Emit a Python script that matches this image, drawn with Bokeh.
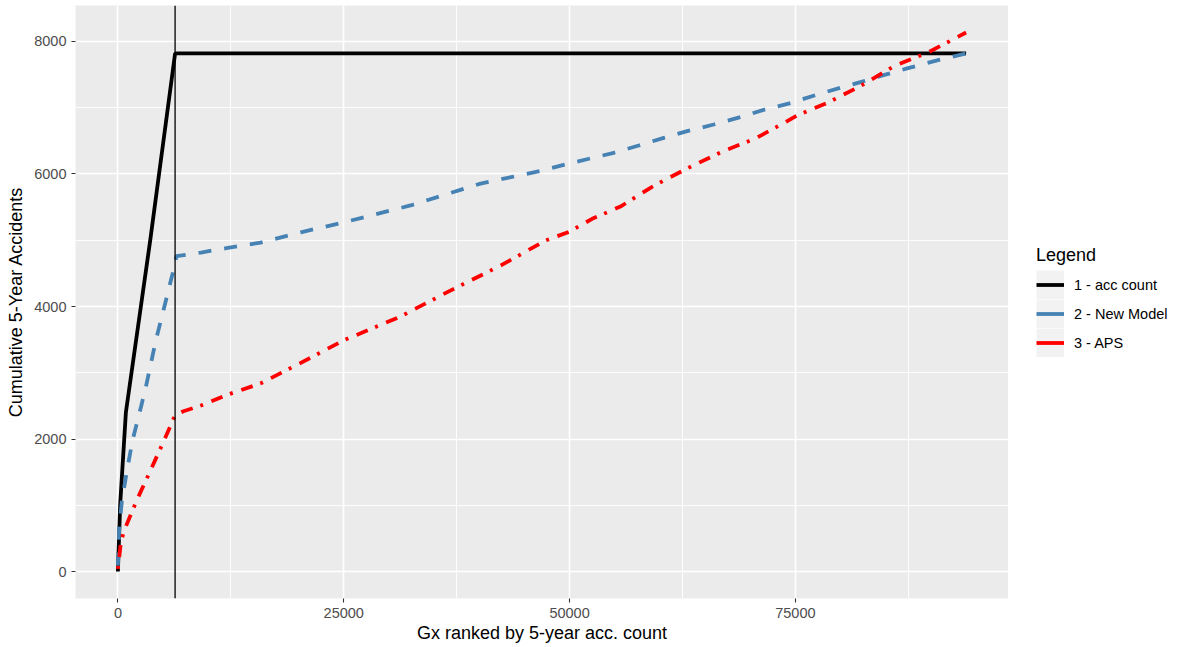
from bokeh.plotting import figure
from bokeh.layouts import row
from bokeh.models import Range1d, FixedTicker, Span, Legend, LegendItem
from bokeh.embed import file_html
from bokeh.resources import INLINE

# Gx ranked by 5-year accident count (x) vs cumulative 5-year accidents (y)
# values
acc_x = [0, 255, 885, 3575, 6330, 93900]
acc_y = [0, 1022, 2405, 4996, 7820, 7820]

new_x = [0, 145, 440, 1070, 1620, 2545, 3100, 4200, 5125, 6050, 6480, 9200,
         12000, 15800, 20250, 25000, 32400, 40150, 47000, 50000, 54900, 57660,
         60430, 63020, 65960, 68920, 71500, 74450, 77200, 80040, 82200, 84870,
         87470, 90800, 93900]
new_y = [90, 650, 1070, 1575, 1980, 2480, 2790, 3487, 3990, 4494, 4760, 4815,
         4880, 4965, 5120, 5270, 5525, 5855, 6053, 6160, 6320, 6430,
         6546, 6646, 6747, 6858, 6969, 7069, 7190, 7304, 7386, 7496,
         7597, 7719, 7820]

aps_x = [0, 330, 700, 2100, 3725, 5240, 6330, 7260, 9200, 11950, 15800, 20250,
         25000, 31300, 36800, 42400, 47350, 50000, 52500, 55640, 57300, 58960,
         60430, 63680, 67000, 70500, 73700, 75190, 78560, 82270, 85990, 89700,
         93900]
aps_y = [40, 440, 620, 1080, 1560, 2018, 2360, 2420, 2505, 2660, 2840, 3150,
         3490, 3850, 4240, 4620, 4996, 5130, 5323, 5509, 5650, 5791,
         5902, 6128, 6344, 6531, 6767, 6883, 7076, 7331, 7633, 7835,
         8135]

cutoff_rank = 6330

legend_labels = ["1 - acc count", "2 - New Model", "3 - APS"]

x_ticks = [0, 25000, 50000, 75000]
x_tick_labels = ["0", "25000", "50000", "75000"]
x_minor = [12500, 37500, 62500, 87500]
y_ticks = [0, 2000, 4000, 6000, 8000]
y_tick_labels = ["0", "2000", "4000", "6000", "8000"]
y_minor = [1000, 3000, 5000, 7000]

FONT = "Liberation Sans"
LW = 3.8

p = figure(width=1008, height=647, output_backend="svg", toolbar_location=None,
           x_range=Range1d(-4695, 98595), y_range=Range1d(-407, 8543),
           min_border_left=75, min_border_right=0, min_border_top=5,
           min_border_bottom=49)

p.background_fill_color = "#EBEBEB"
p.border_fill_color = "white"
p.outline_line_color = None

p.xaxis.ticker = FixedTicker(ticks=x_ticks, minor_ticks=x_minor)
p.yaxis.ticker = FixedTicker(ticks=y_ticks, minor_ticks=y_minor)
p.xaxis.major_label_overrides = dict(zip(x_ticks, x_tick_labels))
p.yaxis.major_label_overrides = dict(zip(y_ticks, y_tick_labels))

for grid in (p.xgrid, p.ygrid):
    grid.grid_line_color = "white"
    grid.grid_line_width = 1.6
    grid.minor_grid_line_color = "white"
    grid.minor_grid_line_width = 0.9

for ax in (p.xaxis, p.yaxis):
    ax.axis_line_color = None
    ax.major_tick_line_color = "#333333"
    ax.major_tick_line_width = 1.1
    ax.major_tick_out = 4
    ax.major_tick_in = 0
    ax.minor_tick_line_color = None
    ax.major_label_text_font = FONT
    ax.major_label_text_font_size = "14.5px"
    ax.major_label_text_color = "#4D4D4D"
    ax.axis_label_text_font = FONT
    ax.axis_label_text_font_size = "18px"
    ax.axis_label_text_font_style = "normal"
    ax.axis_label_text_color = "black"

p.xaxis.axis_label = "Gx ranked by 5-year acc. count"
p.xaxis.major_label_standoff = 5
p.xaxis.axis_label_standoff = 2
p.yaxis.axis_label = "Cumulative 5-Year Accidents"
p.yaxis.major_label_standoff = 5
p.yaxis.axis_label_standoff = 5

p.line(acc_x, acc_y, line_color="black", line_width=LW)
p.line(new_x, new_y, line_color="steelblue", line_width=LW, line_dash="13 13")
p.line(aps_x, aps_y, line_color="red", line_width=LW, line_dash="3 9 12 8")

p.add_layout(Span(location=cutoff_rank, dimension="height",
                  line_color="black", line_width=1.3))

# legend goes in its own little figure to the right of the panel
lf = figure(width=169, height=647, output_backend="svg", toolbar_location=None,
            x_range=Range1d(0, 1), y_range=Range1d(0, 1),
            x_axis_type=None, y_axis_type=None, min_border=0)
lf.outline_line_color = None
lf.background_fill_color = "white"
lf.border_fill_color = "white"
lf.grid.visible = False

# key renderers: grey key box + solid line; one-point lines draw nothing
key_bg = lf.line(acc_x[:1], acc_y[:1], line_color="#F2F2F2", line_width=29)
key_acc = lf.line(acc_x[:1], acc_y[:1], line_color="black", line_width=LW)
key_new = lf.line(new_x[:1], new_y[:1], line_color="steelblue", line_width=LW)
key_aps = lf.line(aps_x[:1], aps_y[:1], line_color="red", line_width=LW)

legend = Legend(items=[
    LegendItem(label=legend_labels[0], renderers=[key_bg, key_acc]),
    LegendItem(label=legend_labels[1], renderers=[key_bg, key_new]),
    LegendItem(label=legend_labels[2], renderers=[key_bg, key_aps]),
], location=(28, 241))
legend.title = "Legend"
legend.title_text_font = FONT
legend.title_text_font_size = "18px"
legend.title_text_font_style = "normal"
legend.title_text_color = "black"
legend.title_standoff = 4
legend.label_text_font = FONT
legend.label_text_font_size = "14.5px"
legend.label_text_color = "black"
legend.glyph_width = 28
legend.glyph_height = 29
legend.label_height = 29
legend.label_standoff = 10
legend.spacing = 0
legend.padding = 0
legend.margin = 0
legend.border_line_color = None
legend.background_fill_alpha = 0
lf.add_layout(legend)

open("out.html", "w").write(file_html(row(p, lf), INLINE))
